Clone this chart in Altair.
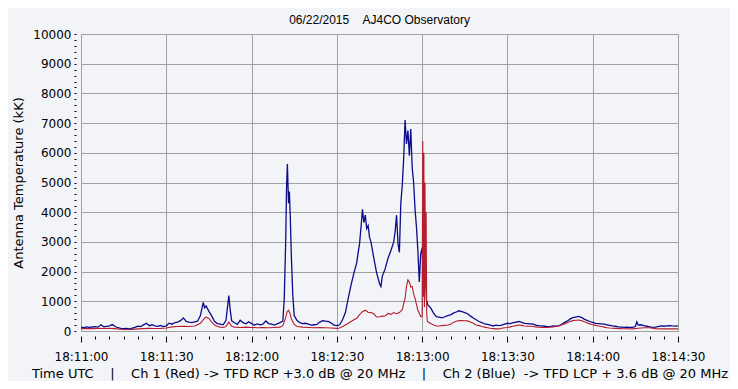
import altair as alt
import pandas as pd

# seconds after 18:11:00 UTC
blue_t = [0, 1, 2, 3, 4, 5, 6, 7, 8, 9,
          10, 11, 12, 13, 14, 15, 16, 17, 18, 19,
          20, 21, 22, 23, 24, 25, 26, 27, 28, 29,
          30, 31, 32, 33, 34, 35, 36, 37, 38, 39,
          40, 41, 42, 43, 43.5, 44, 45, 46, 47, 48,
          49, 50, 51, 52, 52.5, 53, 54, 55, 56, 57,
          58, 59, 60, 61, 62, 63, 64, 65, 66, 67,
          68, 69, 70, 71, 71.5, 72, 72.3, 72.6, 73, 73.3,
          73.6, 74, 74.5, 75, 76, 77, 78, 79, 80, 81,
          82, 83, 84, 85, 86, 87, 88, 89, 90, 91,
          92, 93, 94, 95, 96, 97, 97.5, 98, 98.5, 99,
          99.5, 100, 100.5, 101, 101.5, 102, 103, 104, 105, 105.5,
          106, 107, 108, 109, 110, 110.5, 111, 111.5, 112, 112.5,
          113, 113.5, 114, 114.5, 115, 115.5, 116, 116.5, 117, 117.5,
          118, 118.5, 119, 119.5, 120, 120.3, 120.6, 121, 121.5, 122,
          123, 124, 125, 126, 127, 128, 129, 130, 131, 132,
          133, 134, 135, 136, 137, 138, 139, 140, 141, 142,
          143, 144, 145, 146, 147, 148, 149, 150, 151, 152,
          153, 154, 155, 156, 157, 158, 159, 160, 161, 162,
          163, 164, 165, 166, 167, 168, 169, 170, 171, 172,
          173, 174, 175, 176, 177, 178, 179, 180, 181, 182,
          183, 184, 185, 186, 187, 188, 189, 190, 191, 192,
          193, 194, 195, 195.5, 196, 197, 198, 199, 200, 201,
          202, 203, 204, 205, 206, 207, 208, 209, 210]
blue_v = [130, 115, 140, 125, 135, 150, 130, 210, 140, 155,
          170, 215, 150, 110, 90, 80, 85, 75, 95, 120,
          165, 150, 205, 260, 180, 210, 170, 155, 185, 150,
          175, 265, 230, 285, 300, 350, 440, 320, 300, 285,
          310, 330, 520, 960, 780, 840, 660, 500, 320, 250,
          230, 210, 360, 1190, 700, 340, 280, 220, 360, 280,
          240, 310, 250, 200, 240, 210, 230, 340, 250, 230,
          200, 240, 280, 330, 1100, 3000, 4800, 5620, 4300, 4700,
          3900, 2500, 1200, 520, 350, 280, 250, 260, 230, 200,
          210, 220, 300, 345, 330, 320, 270, 200, 180, 210,
          380, 620, 1100, 1550, 1950, 2300, 2650, 2950, 3500, 4100,
          3650, 3900, 3450, 3550, 3150, 3000, 2450, 1950, 1600, 1500,
          1850, 2100, 2450, 2700, 3000, 3350, 3900, 2950, 2650, 4300,
          4900, 5800, 7100, 6300, 6750, 5900, 6800, 5500, 5000, 4100,
          3500, 2700, 1650, 2600, 2800, 2100, 1150, 2300, 1050, 880,
          780, 600, 480, 470, 440, 480, 520, 545, 600, 640,
          680, 650, 620, 580, 500, 440, 380, 320, 285, 240,
          225, 200, 170, 195, 180, 200, 230, 260, 250, 280,
          295, 320, 290, 260, 250, 240, 230, 200, 180, 170,
          160, 150, 150, 170, 160, 175, 220, 280, 330, 400,
          450, 470, 490, 460, 400, 360, 320, 290, 260, 250,
          240, 230, 210, 190, 170, 160, 140, 130, 120, 130,
          120, 125, 150, 310, 200, 210, 180, 160, 140, 120,
          130, 150, 170, 160, 170, 180, 170, 165, 170]

red_t = [0, 2, 4, 6, 8, 10, 12, 14, 16, 18,
         20, 22, 24, 26, 28, 30, 32, 34, 36, 38,
         40, 42, 43, 44, 45, 46, 47, 48, 49, 50,
         51, 52, 53, 54, 56, 58, 60, 62, 64, 66,
         68, 70, 71, 72, 72.5, 73, 73.5, 74, 75, 76,
         78, 80, 82, 84, 86, 88, 90, 91, 92, 93,
         94, 95, 96, 97, 98, 99, 100, 101, 102, 103,
         104, 105, 106, 107, 108, 109, 110, 111, 112, 113,
         114, 114.5, 115, 115.5, 116, 116.5, 117, 117.5, 118, 118.5,
         119, 119.5, 120, 120.2, 120.4, 120.6, 120.8, 121, 121.2, 121.4,
         121.6, 121.8, 122, 123, 124, 125, 126, 127, 128, 129,
         130, 131, 132, 133, 134, 135, 136, 137, 138, 139,
         140, 141, 142, 143, 144, 145, 146, 147, 148, 149,
         150, 151, 152, 153, 154, 155, 156, 157, 158, 159,
         160, 161, 162, 163, 164, 165, 166, 167, 168, 169,
         170, 171, 172, 173, 174, 175, 176, 177, 178, 179,
         180, 181, 182, 183, 184, 185, 186, 187, 188, 190,
         192, 194, 196, 198, 200, 202, 204, 206, 208, 210]
red_v = [80, 85, 80, 90, 85, 90, 80, 60, 50, 55,
         70, 80, 90, 85, 90, 100, 140, 150, 160, 150,
         170, 260, 380, 470, 420, 300, 200, 150, 130, 120,
         150, 300, 160, 130, 120, 130, 120, 110, 120, 110,
         120, 130, 180, 450, 650, 700, 600, 400, 220, 150,
         130, 120, 110, 120, 110, 100, 90, 100, 150, 200,
         260, 320, 380, 430, 550, 650, 700, 630, 620, 580,
         470, 480, 500, 510, 590, 560, 620, 580, 620, 720,
         1100, 1500, 1720, 1650, 1480, 1500, 1250, 1100, 900, 700,
         600, 480, 500, 6400, 1200, 6000, 800, 5000, 1500, 4000,
         600, 350, 310, 250, 200, 170, 170, 180, 190, 200,
         230, 290, 330, 350, 350, 345, 340, 300, 260, 200,
         180, 150, 130, 110, 90, 80, 70, 70, 90, 110,
         120, 140, 160, 180, 200, 190, 170, 160, 160, 150,
         140, 130, 120, 120, 120, 130, 140, 150, 170, 200,
         240, 280, 320, 350, 360, 370, 350, 310, 280, 240,
         210, 190, 170, 150, 130, 110, 100, 95, 90, 80,
         75, 70, 90, 110, 110, 80, 70, 75, 70, 70]

x_ticks = list(range(0, 211, 5))
y_ticks = list(range(0, 10001, 200))

NB = "\u00a0"
title_text = "06/22/2015" + NB * 4 + "AJ4CO Observatory"
x_title = ("Time UTC" + NB * 4 + "|" + NB * 4 + "Ch 1 (Red) -> TFD RCP +3.0 dB @ 20 MHz"
           + NB * 4 + "|" + NB * 4 + "Ch 2 (Blue)" + NB * 2 + "-> TFD LCP + 3.6 dB @ 20 MHz")
y_title = "Antenna Temperature (kK)"

blue_df = pd.DataFrame({"t": blue_t, "v": blue_v})
red_df = pd.DataFrame({"t": red_t, "v": red_v})

x_label_expr = ("datum.value % 30 == 0 ? '18:' + (11 + floor(datum.value / 60)) + ':' + "
                "(datum.value % 60 == 0 ? '00' : '30') : ''")

x_enc = alt.X(
    "t:Q",
    scale=alt.Scale(domain=[0, 210], nice=False, zero=False),
    axis=alt.Axis(
        values=x_ticks,
        tickCount=200,
        labelExpr=x_label_expr,
        labelOverlap=False,
        labelFlush=False,
        title=x_title,
        titleFont="DejaVu Sans",
        titleFontSize=13,
        titleFontWeight="normal",
        titleColor="#000000",
        titlePadding=5,
        labelFont="DejaVu Sans",
        labelFontSize=12,
        labelColor="#000000",
        labelPadding=9,
        domain=False,
        offset=5,
        tickColor="#000000",
        tickSize={"condition": {"test": "datum.value % 30 == 0", "value": 6}, "value": 3},
        grid=True,
        gridColor="#a0a0a0",
        gridOpacity={"condition": {"test": "datum.value % 30 == 0", "value": 1}, "value": 0},
    ),
)
y_enc = alt.Y(
    "v:Q",
    scale=alt.Scale(domain=[0, 10000], nice=False, zero=True),
    axis=alt.Axis(
        values=y_ticks,
        tickCount=200,
        labelExpr="datum.value % 1000 == 0 ? format(datum.value, 'd') : ''",
        labelOverlap=False,
        labelFlush=False,
        title=y_title,
        titleFont="DejaVu Sans",
        titleFontSize=13,
        titleFontWeight="normal",
        titleColor="#000000",
        titlePadding=7,
        labelFont="DejaVu Sans",
        labelFontSize=12,
        labelColor="#000000",
        labelPadding=3,
        domain=False,
        offset=5,
        tickColor="#000000",
        tickSize=2,
        grid=True,
        gridColor="#a0a0a0",
        gridOpacity={"condition": {"test": "datum.value % 1000 == 0", "value": 1}, "value": 0},
    ),
)

blue_line = alt.Chart(blue_df).mark_line(color="#0b0b8c", strokeWidth=1.3, clip=True).encode(
    x=x_enc, y=y_enc, order="t:Q"
)
red_line = alt.Chart(red_df).mark_line(color="#b41e2e", strokeWidth=1.1, clip=True).encode(
    x=alt.X("t:Q"), y=alt.Y("v:Q"), order="t:Q"
)

chart = (
    alt.layer(blue_line, red_line)
    .properties(
        width=597,
        height=297,
        padding={"left": 73, "top": 26, "right": 52, "bottom": 50},
        autosize=alt.AutoSizeParams(type="none"),
        background="#f3f4f7",
        title=alt.TitleParams(
            text=title_text,
            font="Liberation Sans",
            fontSize=12,
            fontWeight="normal",
            color="#000000",
            anchor="middle",
            offset=1,
        ),
    )
    .configure_view(stroke="#a0a0a0", strokeWidth=1, fill="#f3f4f7")
)

chart.save("out.html", embed_options={"renderer": "svg", "actions": False})
